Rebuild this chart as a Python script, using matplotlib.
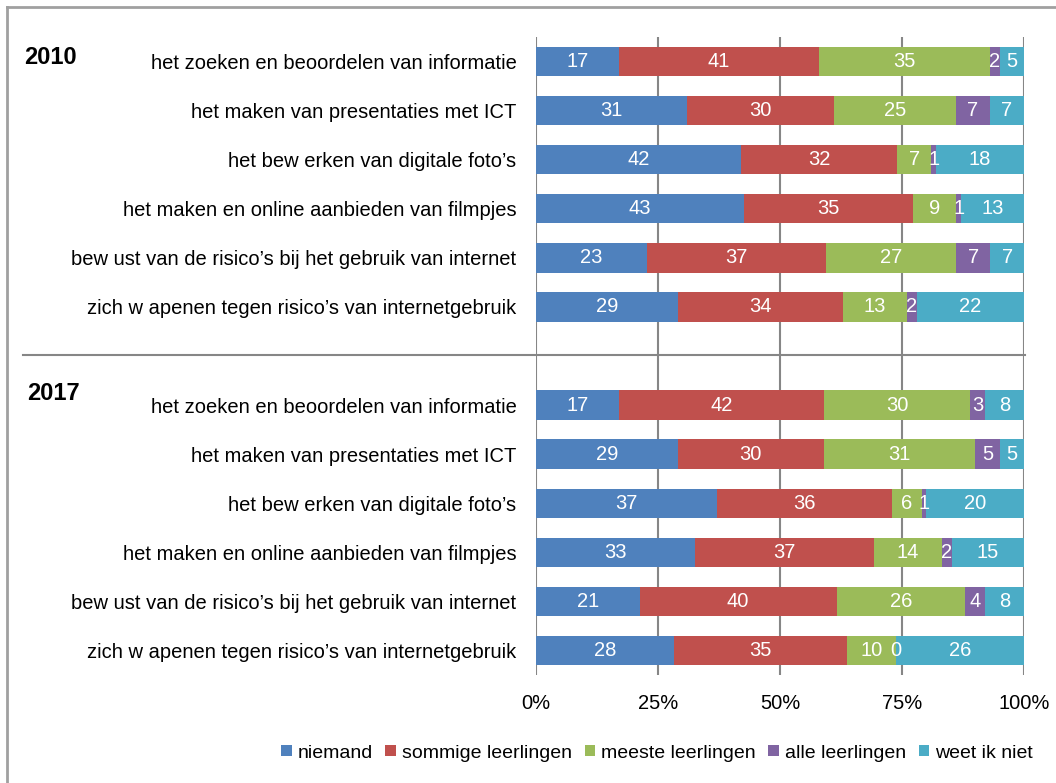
import numpy as np
import matplotlib.pyplot as plt
from matplotlib.lines import Line2D
from matplotlib.patches import Patch

plt.rcParams['font.family'] = ['Liberation Sans', 'DejaVu Sans']

categories = [
    "het zoeken en beoordelen van informatie",
    "het maken van presentaties met ICT",
    "het bew erken van digitale foto\u2019s",
    "het maken en online aanbieden van filmpjes",
    "bew ust van de risico\u2019s bij het gebruik van internet",
    "zich w apenen tegen risico\u2019s van internetgebruik",
]
years = ["2010", "2017"]
series = ["niemand", "sommige leerlingen", "meeste leerlingen", "alle leerlingen", "weet ik niet"]
colors = ["#4F81BD", "#C0504D", "#9BBB59", "#8064A2", "#4BACC6"]

# rows = categories, columns = series
values_2010 = [
    [17, 41, 35, 2, 5],
    [31, 30, 25, 7, 7],
    [42, 32, 7, 1, 18],
    [43, 35, 9, 1, 13],
    [23, 37, 27, 7, 7],
    [29, 34, 13, 2, 22],
]
values_2017 = [
    [17, 42, 30, 3, 8],
    [29, 30, 31, 5, 5],
    [37, 36, 6, 1, 20],
    [33, 37, 14, 2, 15],
    [21, 40, 26, 4, 8],
    [28, 35, 10, 0, 26],
]

W, H = 1056, 783
fig = plt.figure(figsize=(W / 100, H / 100), dpi=100)
ax = fig.add_axes([536 / W, 1 - 675 / H, (1024 - 536) / W, (675 - 37) / H])

grey = "#868686"
fs = 14.5

rows = []
labels = []
for vals in (values_2010, values_2017):
    rows.extend(vals)
    labels.extend(categories)
# slot positions: 0..5 for 2010, 7..12 for 2017 (slot 6 = separator)
ypos = list(range(6)) + list(range(7, 13))

for yi, vals in zip(ypos, rows):
    vals = np.array(vals, dtype=float)
    pct = vals / vals.sum() * 100
    left = 0.0
    for j, (v, p) in enumerate(zip(vals, pct)):
        ax.barh(yi, p, left=left, height=0.6, color=colors[j], linewidth=0, zorder=2)
        ax.text(left + p / 2, yi, f"{int(v)}", ha="center", va="center",
                color="white", fontsize=fs, zorder=3)
        left += p

ax.set_xlim(0, 100)
ax.set_ylim(12.5, -0.5)
ax.set_yticks(ypos)
ax.set_yticklabels(labels, fontsize=fs)
ax.tick_params(axis="y", length=0, pad=14)
ax.set_xticks([0, 25, 50, 75, 100])
ax.set_xticklabels(["0%", "25%", "50%", "75%", "100%"], fontsize=fs)
ax.tick_params(axis="x", length=0, pad=14)
for x in [0, 25, 50, 75, 100]:
    ax.axvline(x, color=grey, linewidth=1.5, zorder=1)
for s in ax.spines.values():
    s.set_visible(False)

# separator between the two years
fig.add_artist(Line2D([23 / W, 1025 / W], [1 - 355 / H] * 2, color=grey, linewidth=1.5))

fig.text(24 / W, 1 - 58 / H, years[0], fontsize=17, fontweight="bold", va="center", ha="left")
fig.text(27 / W, 1 - 393 / H, years[1], fontsize=17, fontweight="bold", va="center", ha="left")

# outer frame
fig.add_artist(Line2D([7 / W, 1], [1 - 7 / H] * 2, color="#A0A0A0", linewidth=2))
fig.add_artist(Line2D([7 / W] * 2, [0, 1 - 7 / H], color="#A0A0A0", linewidth=2))

handles = [Patch(facecolor=c, edgecolor="none") for c in colors]
fig.legend(handles, series, loc="center", bbox_to_anchor=(657 / W, 1 - 753 / H),
           ncol=5, frameon=False, fontsize=14, handlelength=0.55, handleheight=0.55,
           handletextpad=0.3, columnspacing=0.65)

fig.savefig("out.png", dpi=100)
